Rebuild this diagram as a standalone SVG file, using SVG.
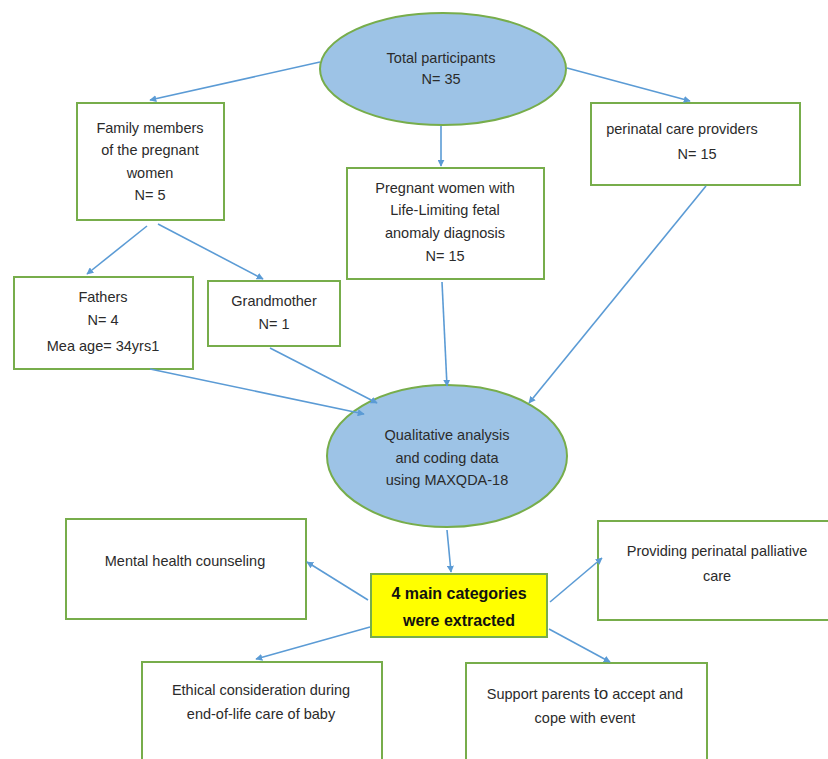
<svg xmlns="http://www.w3.org/2000/svg" width="828" height="759" viewBox="0 0 828 759">
<defs>
<style>
.box{fill:#fff;stroke:#77AD4B;stroke-width:2}
.ell{fill:#9DC3E6;stroke:#77AD4B;stroke-width:2}
.yel{fill:#FFFF00;stroke:#77AD4B;stroke-width:2}
.t{font-family:"Liberation Sans",Arial,sans-serif;font-size:14.5px;fill:#2b2b2b;text-anchor:middle}
.b{font-weight:bold;font-size:16px;fill:#111}
.c{stroke:#5B9BD5;stroke-width:1.6;fill:none;marker-end:url(#ah)}
</style>
<marker id="ah" viewBox="0 0 10 10" refX="9" refY="5" markerWidth="7" markerHeight="7" orient="auto" markerUnits="userSpaceOnUse">
<path d="M0,0 L10,5 L0,10 z" fill="#5B9BD5"/>
</marker>
</defs>
<rect width="828" height="759" fill="#fff"/>

<g id="total">
<ellipse class="ell" cx="443" cy="69" rx="123" ry="56"/>
<text class="t" x="441" y="63">Total participants</text>
<text class="t" x="441" y="84">N= 35</text>
</g>

<g id="family">
<rect class="box" x="77" y="103" width="147" height="117"/>
<text class="t" x="150" y="133">Family members</text>
<text class="t" x="150" y="155">of the pregnant</text>
<text class="t" x="150" y="178">women</text>
<text class="t" x="150" y="200">N= 5</text>
</g>

<g id="pregnant">
<rect class="box" x="347" y="168" width="197" height="111"/>
<text class="t" x="445" y="193">Pregnant women with</text>
<text class="t" x="445" y="215">Life-Limiting fetal</text>
<text class="t" x="445" y="238">anomaly diagnosis</text>
<text class="t" x="445" y="261">N= 15</text>
</g>

<g id="providers">
<rect class="box" x="591" y="103" width="209" height="82"/>
<text class="t" x="682" y="134">perinatal care providers</text>
<text class="t" x="697" y="159">N= 15</text>
</g>

<g id="fathers">
<rect class="box" x="14" y="277" width="179" height="92"/>
<text class="t" x="103" y="302">Fathers</text>
<text class="t" x="103" y="325">N= 4</text>
<text class="t" x="103" y="351">Mea age= 34yrs1</text>
</g>

<g id="grandmother">
<rect class="box" x="208" y="281" width="132" height="65"/>
<text class="t" x="274" y="306">Grandmother</text>
<text class="t" x="274" y="329">N= 1</text>
</g>

<g id="qualitative">
<ellipse class="ell" cx="447" cy="456" rx="120" ry="71"/>
<text class="t" x="447" y="440">Qualitative analysis</text>
<text class="t" x="447" y="463">and coding data</text>
<text class="t" x="447" y="485">using MAXQDA-18</text>
</g>

<g id="categories">
<rect class="yel" x="371" y="574" width="176" height="63"/>
<text class="t b" x="459" y="599">4 main categories</text>
<text class="t b" x="459" y="626">were extracted</text>
</g>

<g id="mental">
<rect class="box" x="66" y="519" width="240" height="100"/>
<text class="t" x="185" y="566">Mental health counseling</text>
</g>

<g id="palliative">
<rect class="box" x="598" y="521" width="240" height="99"/>
<text class="t" x="717" y="556">Providing perinatal palliative</text>
<text class="t" x="717" y="581">care</text>
</g>

<g id="ethical">
<rect class="box" x="142" y="662" width="240" height="110"/>
<text class="t" x="261" y="695">Ethical consideration during</text>
<text class="t" x="261" y="719">end-of-life care of baby</text>
</g>

<g id="support">
<rect class="box" x="466" y="663" width="241" height="110"/>
<text class="t" x="585" y="699">Support parents <tspan font-size="17px">to</tspan> accept and</text>
<text class="t" x="585" y="723">cope with event</text>
</g>

<g id="connectors">
<line class="c" x1="320" y1="62" x2="150" y2="100"/>
<line class="c" x1="441" y1="126" x2="441" y2="166"/>
<line class="c" x1="567" y1="68" x2="690" y2="101"/>
<line class="c" x1="147" y1="226" x2="87" y2="274"/>
<line class="c" x1="158" y1="224" x2="263" y2="279"/>
<line class="c" x1="150" y1="369" x2="364" y2="414"/>
<line class="c" x1="270" y1="348" x2="377" y2="403"/>
<line class="c" x1="442" y1="282" x2="447" y2="386"/>
<line class="c" x1="706" y1="186" x2="529" y2="403"/>
<line class="c" x1="447" y1="530" x2="451" y2="572"/>
<line class="c" x1="368" y1="600" x2="307" y2="562"/>
<line class="c" x1="370" y1="627" x2="256" y2="659"/>
<line class="c" x1="550" y1="602" x2="602" y2="558"/>
<line class="c" x1="549" y1="629" x2="610" y2="662"/>
</g>
</svg>
